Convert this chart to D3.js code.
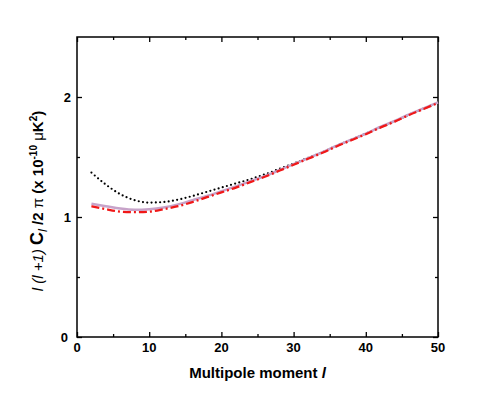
<!DOCTYPE html>
<html>
<head>
<meta charset="utf-8">
<script src="https://cdn.jsdelivr.net/npm/d3@7"></script>
<style>
  body { margin: 0; background: #fff; }
  svg text { font-family: "Liberation Sans", Arial, sans-serif; }
</style>
</head>
<body>
<div id="chart"></div>
<script>
// multipole moments and curve values
var ells = [2, 4, 6, 8, 10, 12, 14, 16, 18, 20, 22, 24, 26, 28, 30, 32, 34, 36, 38, 40, 42, 44, 46, 48, 50];
var dottedVals = [1.37, 1.27, 1.19, 1.14, 1.12, 1.125, 1.145, 1.175, 1.21, 1.245, 1.28, 1.315, 1.355, 1.40, 1.445, 1.493, 1.54, 1.595, 1.645, 1.695, 1.748, 1.798, 1.853, 1.903, 1.953];
var solidVals  = [1.11, 1.09, 1.07, 1.06, 1.065, 1.08, 1.105, 1.14, 1.175, 1.215, 1.255, 1.298, 1.34, 1.39, 1.44, 1.49, 1.54, 1.595, 1.645, 1.695, 1.75, 1.80, 1.855, 1.905, 1.955];
var dashVals   = [1.09, 1.065, 1.045, 1.04, 1.045, 1.065, 1.09, 1.125, 1.165, 1.205, 1.245, 1.29, 1.335, 1.385, 1.435, 1.485, 1.535, 1.59, 1.64, 1.69, 1.745, 1.795, 1.85, 1.90, 1.95];
var xTicks = [0, 10, 20, 30, 40, 50];
var yTicks = [0, 1, 2];

var W = 485, H = 402;
var margin = {top: 37, right: 47, bottom: 65, left: 77};
var width = W - margin.left - margin.right,
    height = H - margin.top - margin.bottom;

var svg = d3.select("#chart").append("svg")
    .attr("width", W).attr("height", H);
var g = svg.append("g")
    .attr("transform", "translate(" + margin.left + "," + margin.top + ")");

var x = d3.scaleLinear().domain([0, 50]).range([0, width]);
var y = d3.scaleLinear().domain([0, 2.5]).range([height, 0]);

// ticks on all four sides, pointing inward
function tickMarks(axisGen, tr) {
  var a = g.append("g").attr("transform", tr).call(axisGen);
  a.select(".domain").remove();
  a.selectAll("line").attr("stroke", "#000").attr("stroke-width", 1.3);
  return a;
}
tickMarks(d3.axisTop(x).tickValues(d3.range(5, 50, 10)).tickSize(3).tickFormat(""), "translate(0," + height + ")");
tickMarks(d3.axisTop(x).tickValues(xTicks).tickSize(5).tickFormat(""), "translate(0," + height + ")");
tickMarks(d3.axisBottom(x).tickValues(d3.range(5, 50, 10)).tickSize(3).tickFormat(""), "translate(0,0)");
tickMarks(d3.axisBottom(x).tickValues(xTicks).tickSize(5).tickFormat(""), "translate(0,0)");
tickMarks(d3.axisRight(y).tickValues([0.5, 1.5]).tickSize(3).tickFormat(""), "translate(0,0)");
tickMarks(d3.axisRight(y).tickValues(yTicks).tickSize(5).tickFormat(""), "translate(0,0)");
tickMarks(d3.axisLeft(y).tickValues([0.5, 1.5]).tickSize(3).tickFormat(""), "translate(" + width + ",0)");
tickMarks(d3.axisLeft(y).tickValues(yTicks).tickSize(5).tickFormat(""), "translate(" + width + ",0)");

// frame
g.append("rect")
    .attr("x", 0).attr("y", 0)
    .attr("width", width).attr("height", height)
    .attr("fill", "none").attr("stroke", "#000").attr("stroke-width", 1.5);

// tick labels
g.selectAll(".xlab").data(xTicks).enter().append("text")
    .attr("x", function(d) { return x(d); })
    .attr("y", height + 15)
    .attr("text-anchor", "middle")
    .style("font-size", "13px").style("font-weight", "bold")
    .text(function(d) { return d; });
g.selectAll(".ylab").data(yTicks).enter().append("text")
    .attr("x", function(d) { return d === 0 ? -9 : -6; })
    .attr("y", function(d) { return y(d) + 5; })
    .attr("text-anchor", "end")
    .style("font-size", "13px").style("font-weight", "bold")
    .text(function(d) { return d; });

// curves: dotted underneath, then solid, dash-dot on top
function pts(vals) { return ells.map(function(l, i) { return [l, vals[i]]; }); }
var line = d3.line()
    .x(function(d) { return x(d[0]); })
    .y(function(d) { return y(d[1]); })
    .curve(d3.curveMonotoneX);

g.append("path").datum(pts(dottedVals))
    .attr("d", line).attr("fill", "none")
    .attr("stroke", "#000").attr("stroke-width", 2.2)
    .attr("stroke-linecap", "round")
    .attr("stroke-dasharray", "0,4.3");
g.append("path").datum(pts(solidVals))
    .attr("d", line).attr("fill", "none")
    .attr("stroke", "#c7a3c9").attr("stroke-width", 2.5);
g.append("path").datum(pts(dashVals))
    .attr("d", line).attr("fill", "none")
    .attr("stroke", "#f01818").attr("stroke-width", 2.3)
    .attr("stroke-dasharray", "8,3,2,3");

// x title
var xt = svg.append("text")
    .attr("x", margin.left + width / 2)
    .attr("y", 378)
    .attr("text-anchor", "middle")
    .style("font-size", "15px").style("font-weight", "bold");
xt.append("tspan").text("Multipole moment ");
xt.append("tspan").style("font-style", "italic").text("l");

// y title
var yt = svg.append("text")
    .attr("transform", "translate(43,201) rotate(-90)")
    .attr("text-anchor", "middle")
    .style("font-size", "15px");
yt.append("tspan").style("font-style", "italic").text("l (l +1) ");
yt.append("tspan").style("font-weight", "bold").style("font-size", "18px").text("C");
yt.append("tspan").style("font-style", "italic").style("font-size", "13px").attr("dy", 4).text("l");
yt.append("tspan").style("font-weight", "bold").attr("dy", -4).text(" /2 ");
yt.append("tspan").text("π ");
yt.append("tspan").style("font-weight", "bold").text("(x 10");
yt.append("tspan").style("font-weight", "bold").style("font-size", "10px").attr("dy", -6).text("-10");
yt.append("tspan").attr("dy", 6).text(" μ");
yt.append("tspan").style("font-weight", "bold").text("K");
yt.append("tspan").style("font-weight", "bold").style("font-size", "10px").attr("dy", -6).text("2");
yt.append("tspan").style("font-weight", "bold").attr("dy", 6).text(")");
</script>
</body>
</html>
